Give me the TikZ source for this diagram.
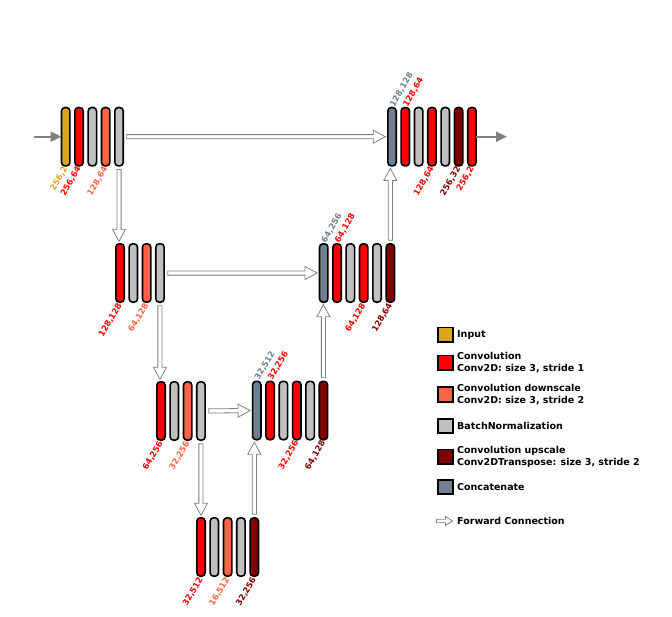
\documentclass[tikz,border=0pt]{standalone}
\usepackage{fontspec}
\setmainfont{DejaVu Sans}
\usetikzlibrary{arrows.meta,calc}
\definecolor{cgold}{HTML}{DAA520}
\definecolor{cred}{HTML}{FF0000}
\definecolor{cgray}{HTML}{C0C0C0}
\definecolor{ctom}{HTML}{FF6347}
\definecolor{cdark}{HTML}{800000}
\definecolor{cslate}{HTML}{708090}
\definecolor{carrow}{HTML}{808080}
\def\fwdw{2.1pt}\def\fwdh{6.5pt}\def\fwdl{12pt}\def\fwdga{3.5pt}\def\fwdgb{2.5pt}
\tikzset{
  bar/.style={draw=black, line width=1.6pt, rounded corners=3.5pt, minimum width=8.4pt, minimum height=58.4pt, inner sep=0pt, outer sep=0pt},
  lab/.style={font=\bfseries\fontsize{8.3}{9}\selectfont, rotate=60, inner sep=0pt},
  labb/.style={lab, anchor=east},
  laba/.style={lab, anchor=west},
  legsq/.style={draw=black, line width=1.6pt, minimum width=15pt, minimum height=14.5pt, inner sep=0pt},
  legtxt/.style={font=\bfseries\fontsize{9.5}{11.5}\selectfont, anchor=west, align=left, inner sep=0pt},
  ioarrow/.style={draw=carrow, line width=2pt, -{Triangle[length=11pt,width=10pt]}},
  fwdsmall/.code={\def\fwdw{1.7pt}\def\fwdh{4.5pt}\def\fwdl{7pt}\def\fwdga{0pt}\def\fwdgb{0pt}},
  fwd/.style={draw=carrow, fill=white, line width=0.8pt, line join=miter, to path={
    coordinate (fS) at ($(\tikztostart)!\fwdga!(\tikztotarget)$)
    coordinate (fE) at ($(\tikztotarget)!\fwdgb!(\tikztostart)$)
    coordinate (fB) at ($(fE)!\fwdl!(fS)$)
    ($(fS)!\fwdw!90:(fE)$) -- ($(fB)!\fwdw!90:(fE)$) -- ($(fB)!\fwdh!90:(fE)$) -- (fE)
    -- ($(fB)!\fwdh!-90:(fE)$) -- ($(fB)!\fwdw!-90:(fE)$) -- ($(fS)!\fwdw!-90:(fE)$) -- cycle}}
}
\begin{document}
\begin{tikzpicture}[x=1pt,y=-1pt]
\useasboundingbox (0,0) rectangle (672,616);
% blocks
\foreach \c [count=\i] in {cgold,cred,cgray,ctom,cgray}
  \node[bar, fill=\c] (tl\i) at ({65.7+13.33*(\i-1)},136.7) {};
\foreach \c [count=\i] in {cslate,cred,cgray,cred,cgray,cdark,cred}
  \node[bar, fill=\c] (tr\i) at ({392+13.33*(\i-1)},136.7) {};
\foreach \c [count=\i] in {cred,cgray,ctom,cgray}
  \node[bar, fill=\c] (la\i) at ({120+13.33*(\i-1)},273) {};
\foreach \c [count=\i] in {cslate,cred,cgray,cred,cgray,cdark}
  \node[bar, fill=\c] (ra\i) at ({323.7+13.33*(\i-1)},273) {};
\foreach \c [count=\i] in {cred,cgray,ctom,cgray}
  \node[bar, fill=\c] (lb\i) at ({161+13.33*(\i-1)},411) {};
\foreach \c [count=\i] in {cslate,cred,cgray,cred,cgray,cdark}
  \node[bar, fill=\c] (rb\i) at ({256.8+13.33*(\i-1)},410.5) {};
\foreach \c [count=\i] in {cred,cgray,ctom,cgray,cdark}
  \node[bar, fill=\c] (bt\i) at ({201+13.33*(\i-1)},547) {};
% input / output
\coordinate (inS) at (34,136.7);
\coordinate (outE) at (507,136.7);
\draw[ioarrow] (inS) -- (tl1.west);
\draw[ioarrow] (tr7.east) -- (outE);
% forward connections
\draw[fwd] (tl5.east) to (tr1.west);
\draw[fwd] (tl5.south) to (tl5.south |- la1.north);
\draw[fwd] (la4.east) to (ra1.west);
\draw[fwd] (la4.south) to (la4.south |- lb1.north);
\draw[fwd] (lb4.east) to (rb1.west);
\draw[fwd] (lb4.south) to (lb4.south |- bt1.north);
\draw[fwd] (bt5.north) to (bt5.north |- rb1.south);
\draw[fwd] (rb6.north) to (rb6.north |- ra1.south);
\draw[fwd] (ra6.north) to (ra6.north |- tr1.south);
% labels
\node[labb, text=cgold] (ltl1) at ([yshift=-1.5pt]tl1.south) {256,2};
\node[labb, text=cred] (ltl2) at ([yshift=-1.5pt]tl2.south) {256,64};
\node[labb, text=ctom] (ltl4) at ([yshift=-1.5pt]tl4.south) {128,64};
\node[laba, text=cslate] (ltr1) at ([yshift=1.5pt]tr1.north) {128,128};
\node[laba, text=cred] (ltr2) at ([yshift=1.5pt]tr2.north) {128,64};
\node[labb, text=cred] (ltr4) at ([yshift=-1.5pt]tr4.south) {128,64};
\node[labb, text=cdark] (ltr6) at ([yshift=-1.5pt]tr6.south) {256,32};
\node[labb, text=cred] (ltr7) at ([yshift=-1.5pt]tr7.south) {256,2};
\node[labb, text=cred] (lla1) at ([yshift=-1.5pt]la1.south) {128,128};
\node[labb, text=ctom] (lla3) at ([yshift=-1.5pt]la3.south) {64,128};
\node[laba, text=cslate] (lra1) at ([yshift=1.5pt]ra1.north) {64,256};
\node[laba, text=cred] (lra2) at ([yshift=1.5pt]ra2.north) {64,128};
\node[labb, text=cred] (lra4) at ([yshift=-1.5pt]ra4.south) {64,128};
\node[labb, text=cdark] (lra6) at ([yshift=-1.5pt]ra6.south) {128,64};
\node[labb, text=cred] (llb1) at ([yshift=-1.5pt]lb1.south) {64,256};
\node[labb, text=ctom] (llb3) at ([yshift=-1.5pt]lb3.south) {32,256};
\node[laba, text=cslate] (lrb1) at ([yshift=1.5pt]rb1.north) {32,512};
\node[laba, text=cred] (lrb2) at ([yshift=1.5pt]rb2.north) {32,256};
\node[labb, text=cred] (lrb4) at ([yshift=-1.5pt]rb4.south) {32,256};
\node[labb, text=cdark] (lrb6) at ([yshift=-1.5pt]rb6.south) {64,128};
\node[labb, text=cred] (lbt1) at ([yshift=-1.5pt]bt1.south) {32,512};
\node[labb, text=ctom] (lbt3) at ([yshift=-1.5pt]bt3.south) {16,512};
\node[labb, text=cdark] (lbt5) at ([yshift=-1.5pt]bt5.south) {32,256};
% legend
\node[legsq, fill=cgold] (g1) at (445.5,334.7) {};
\node[legtxt] (gt1) at (457,334.7) {Input};
\node[legsq, fill=cred] (g2) at (445.5,362.8) {};
\node[legtxt] (gt2) at (457,362.8) {Convolution\\Conv2D: size 3, stride 1};
\node[legsq, fill=ctom] (g3) at (445.5,394.5) {};
\node[legtxt] (gt3) at (457,394.5) {Convolution downscale\\Conv2D: size 3, stride 2};
\node[legsq, fill=cgray] (g4) at (445.5,426) {};
\node[legtxt] (gt4) at (457,426) {BatchNormalization};
\node[legsq, fill=cdark] (g5) at (445.5,456.7) {};
\node[legtxt] (gt5) at (457,456.7) {Convolution upscale\\Conv2DTranspose: size 3, stride 2};
\node[legsq, fill=cslate] (g6) at (445.5,487) {};
\node[legtxt] (gt6) at (457,487) {Concatenate};
\coordinate (lfa) at (436.5,521);
\coordinate (lfb) at (452.5,521);
\draw[fwd, fwdsmall] (lfa) to (lfb);
\node[legtxt] (gt7) at (457,520.5) {Forward Connection};
\end{tikzpicture}
\end{document}
